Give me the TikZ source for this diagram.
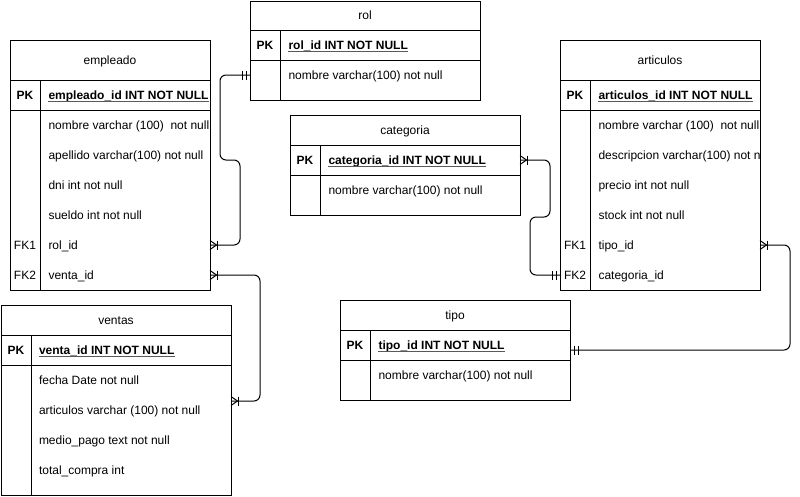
\documentclass[tikz,border=0pt]{standalone}
\usepackage{fontspec}
\setmainfont{Liberation Sans}
\usetikzlibrary{calc}
\begin{document}
\begin{tikzpicture}[x=1pt,y=-1pt, line width=1pt,
  tbl/.style={draw, anchor=north west, inner sep=0pt, outer sep=0pt},
  txt/.style={font=\fontsize{12pt}{14pt}\selectfont, inner sep=0pt, text height=8.6pt, text depth=0pt},
  fld/.style={txt, anchor=west},
  keyl/.style={txt, anchor=center},
  pkl/.style={keyl, font=\fontsize{12pt}{14pt}\selectfont\bfseries},
  pkt/.style={fld, font=\fontsize{12pt}{14pt}\selectfont\bfseries},
  ttl/.style={txt},
  ulin/.style={draw=black!65, line width=0.8pt},
  conn/.style={draw, rounded corners=6pt},
  manyR/.pic={\draw (0,-4.5) -- (6.5,0) -- (0,4.5); \draw (7,-4.5) -- (7,4.5);},
  oneR/.pic={\draw (4,-4.5) -- (4,4.5); \draw (8,-4.5) -- (8,4.5);}
]
\useasboundingbox (0,0) rectangle (800,496);

% ---------- empleado ----------
\node[tbl, minimum width=200pt, minimum height=250pt] (empleado) at (10,40) {};
\draw (empleado.north west) ++(0,40) -- ++(200,0);
\draw (empleado.north west) ++(0,70) -- ++(200,0);
\draw (empleado.north west) ++(30,40) -- ++(0,210);
\node[ttl] (emp-t) at (110,60) {empleado};
\node[pkl] (emp-pkl) at (25,95) {PK};
\node[pkt] (emp-pk) at (48,95) {empleado\_id INT NOT NULL};
\draw[ulin] ([yshift=-1.8pt]emp-pk.south west) -- ([yshift=-1.8pt]emp-pk.south east);
\node[keyl] (emp-fk1) at (25,245) {FK1};
\node[keyl] (emp-fk2) at (25,275) {FK2};
\begin{scope}
\clip (10,40) rectangle (209.5,290);
\node[fld] (emp-nombre) at (48,125) {nombre varchar (100)\ \ not null};
\node[fld] (emp-apellido) at (48,155) {apellido varchar(100) not null};
\node[fld] (emp-dni) at (48,185) {dni int not null};
\node[fld] (emp-sueldo) at (48,215) {sueldo int not null};
\node[fld] (emp-rol) at (48,245) {rol\_id};
\node[fld] (emp-venta) at (48,275) {venta\_id};
\end{scope}

% ---------- rol ----------
\node[tbl, minimum width=230pt, minimum height=99pt] (rol) at (250,1) {};
\draw (rol.north west) ++(0,29) -- ++(230,0);
\draw (rol.north west) ++(0,59) -- ++(230,0);
\draw (rol.north west) ++(30,29) -- ++(0,70);
\node[ttl] (rol-t) at (365,15) {rol};
\node[pkl] (rol-pkl) at (265,45) {PK};
\node[pkt] (rol-pk) at (288,45) {rol\_id INT NOT NULL};
\draw[ulin] ([yshift=-1.8pt]rol-pk.south west) -- ([yshift=-1.8pt]rol-pk.south east);
\node[fld] (rol-nombre) at (288,75) {nombre varchar(100) not null};

% ---------- categoria ----------
\node[tbl, minimum width=230pt, minimum height=100pt] (categoria) at (290,115) {};
\draw (categoria.north west) ++(0,30) -- ++(230,0);
\draw (categoria.north west) ++(0,60) -- ++(230,0);
\draw (categoria.north west) ++(30,30) -- ++(0,70);
\node[ttl] (cat-t) at (405,130) {categoria};
\node[pkl] (cat-pkl) at (305,160) {PK};
\node[pkt] (cat-pk) at (328,160) {categoria\_id INT NOT NULL};
\draw[ulin] ([yshift=-1.8pt]cat-pk.south west) -- ([yshift=-1.8pt]cat-pk.south east);
\node[fld] (cat-nombre) at (328,190) {nombre varchar(100) not null};

% ---------- articulos ----------
\node[tbl, minimum width=200pt, minimum height=250pt] (articulos) at (560,40) {};
\draw (articulos.north west) ++(0,40) -- ++(200,0);
\draw (articulos.north west) ++(0,70) -- ++(200,0);
\draw (articulos.north west) ++(30,40) -- ++(0,210);
\node[ttl] (art-t) at (660,60) {articulos};
\node[pkl] (art-pkl) at (575,95) {PK};
\node[pkt] (art-pk) at (598,95) {articulos\_id INT NOT NULL};
\draw[ulin] ([yshift=-1.8pt]art-pk.south west) -- ([yshift=-1.8pt]art-pk.south east);
\node[keyl] (art-fk1) at (575,245) {FK1};
\node[keyl] (art-fk2) at (575,275) {FK2};
\begin{scope}
\clip (560,40) rectangle (759.5,290);
\node[fld] (art-nombre) at (598,125) {nombre varchar (100)\ \ not null};
\node[fld] (art-desc) at (598,155) {descripcion varchar(100) not null};
\node[fld] (art-precio) at (598,185) {precio int not null};
\node[fld] (art-stock) at (598,215) {stock int not null};
\node[fld] (art-tipo) at (598,245) {tipo\_id};
\node[fld] (art-cat) at (598,275) {categoria\_id};
\end{scope}

% ---------- tipo ----------
\node[tbl, minimum width=230pt, minimum height=100pt] (tipo) at (340,300) {};
\draw (tipo.north west) ++(0,30) -- ++(230,0);
\draw (tipo.north west) ++(0,60) -- ++(230,0);
\draw (tipo.north west) ++(30,30) -- ++(0,70);
\node[ttl] (tipo-t) at (455,315) {tipo};
\node[pkl] (tipo-pkl) at (355,345) {PK};
\node[pkt] (tipo-pk) at (378,345) {tipo\_id INT NOT NULL};
\draw[ulin] ([yshift=-1.8pt]tipo-pk.south west) -- ([yshift=-1.8pt]tipo-pk.south east);
\node[fld] (tipo-nombre) at (378,375) {nombre varchar(100) not null};

% ---------- ventas ----------
\node[tbl, minimum width=230pt, minimum height=190pt] (ventas) at (1,305) {};
\draw (ventas.north west) ++(0,30) -- ++(230,0);
\draw (ventas.north west) ++(0,60) -- ++(230,0);
\draw (ventas.north west) ++(30,30) -- ++(0,160);
\node[ttl] (ven-t) at (116,320) {ventas};
\node[pkl] (ven-pkl) at (16,350) {PK};
\node[pkt] (ven-pk) at (38.5,350) {venta\_id INT NOT NULL};
\draw[ulin] ([yshift=-1.8pt]ven-pk.south west) -- ([yshift=-1.8pt]ven-pk.south east);
\node[fld] (ven-fecha) at (38.5,380) {fecha Date not null};
\node[fld] (ven-art) at (38.5,410) {articulos varchar (100) not null};
\node[fld] (ven-medio) at (38.5,440) {medio\_pago text not null};
\node[fld] (ven-total) at (38.5,470) {total\_compra int};

% ---------- connectors ----------
\coordinate (ven-in) at ($(ventas.north east)+(0,96)$);
\coordinate (tipo-in) at ($(tipo.north east)+(0,50)$);

\draw[conn] (empleado.east |- emp-rol) -- ++(30,0) -- ++(0,-85) -- ++(-20,0) |- (rol.west |- rol-nombre);
\draw[conn] (empleado.east |- emp-venta) -- ++(50,0) |- (ven-in);
\draw[conn] (categoria.east |- cat-pk) -- ++(30,0) -- ++(0,57) -- ++(-20,0) |- (articulos.west |- art-cat);
\draw[conn] (articulos.east |- art-tipo) -- ++(30,0) |- (tipo-in);

% ---------- end markers ----------
\pic at (empleado.east |- emp-rol) {manyR};
\pic at (empleado.east |- emp-venta) {manyR};
\pic at (ven-in) {manyR};
\pic at (categoria.east |- cat-pk) {manyR};
\pic at (articulos.east |- art-tipo) {manyR};
\pic[xscale=-1] at (rol.west |- rol-nombre) {oneR};
\pic[xscale=-1] at (articulos.west |- art-cat) {oneR};
\pic at (tipo-in) {oneR};
\end{tikzpicture}
\end{document}
